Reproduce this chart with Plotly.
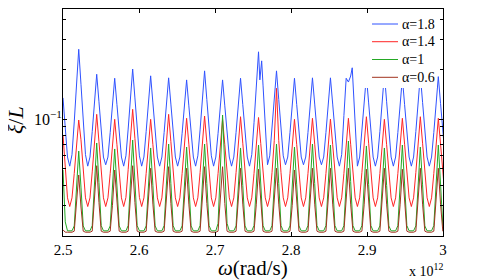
import numpy as np
import plotly.graph_objects as go

# frequency sweep grid, in units of 10^12 rad/s
OMEGA_START = 2.5
OMEGA_STEP = 0.0029571
N_POINTS = 171

LABELS = ["α=1.8", "α=1.4", "α=1", "α=0.6"]
COLORS = ["#2f52ff", "#ff2424", "#24a824", "#a2331f"]

# each row: one resonance period [trough, rise3, rise2, rise1, peak, fall1, fall2, fall3]
BLUE_START = [0.134, 0.085, 0.059]
BLUE_ROWS = [
    [0.052, 0.061, 0.096, 0.162, 0.263, 0.162, 0.096, 0.061],
    [0.052, 0.059, 0.084, 0.127, 0.186, 0.127, 0.084, 0.059],
    [0.053, 0.059, 0.083, 0.122, 0.176, 0.122, 0.083, 0.059],
    [0.052, 0.060, 0.087, 0.134, 0.200, 0.134, 0.087, 0.060],
    [0.052, 0.059, 0.084, 0.125, 0.182, 0.125, 0.084, 0.059],
    [0.052, 0.059, 0.083, 0.123, 0.177, 0.123, 0.083, 0.059],
    [0.052, 0.059, 0.082, 0.120, 0.172, 0.120, 0.082, 0.059],
    [0.052, 0.060, 0.086, 0.131, 0.195, 0.131, 0.086, 0.060],
    [0.052, 0.059, 0.082, 0.120, 0.172, 0.120, 0.082, 0.059],
    [0.052, 0.059, 0.083, 0.122, 0.176, 0.122, 0.083, 0.059],
    [0.052, 0.061, 0.095, 0.158, 0.254, 0.198, 0.160, 0.092],
    [0.053, 0.060, 0.086, 0.131, 0.195, 0.131, 0.086, 0.060],
    [0.053, 0.059, 0.083, 0.122, 0.176, 0.122, 0.083, 0.059],
    [0.053, 0.059, 0.083, 0.123, 0.177, 0.123, 0.083, 0.059],
    [0.053, 0.059, 0.083, 0.123, 0.177, 0.123, 0.083, 0.059],
    [0.052, 0.061, 0.105, 0.176, 0.167, 0.1815, 0.172, 0.092],
    [0.052, 0.059, 0.084, 0.125, 0.182, 0.125, 0.084, 0.059],
    [0.052, 0.059, 0.084, 0.127, 0.187, 0.127, 0.084, 0.059],
    [0.052, 0.059, 0.083, 0.122, 0.177, 0.122, 0.083, 0.059],
    [0.052, 0.059, 0.084, 0.126, 0.184, 0.126, 0.084, 0.059],
    [0.052, 0.059, 0.083, 0.124, 0.180, 0.124, 0.083, 0.059],
]
# split peaks of the α=1.8 curve
BLUE_EXTRA_X = [2.75903, 2.76139, 2.88056]
BLUE_EXTRA_Y = [0.172, 0.224, 0.2035]

RED_START = [0.080, 0.049, 0.0335]
RED_ROWS = [
    [0.0297, 0.0335, 0.047, 0.0695, 0.0986, 0.075, 0.047, 0.0335],
    [0.0297, 0.0335, 0.048, 0.073, 0.1067, 0.073, 0.048, 0.0335],
    [0.0297, 0.0335, 0.047, 0.070, 0.0996, 0.070, 0.047, 0.0335],
    [0.0297, 0.0337, 0.0495, 0.0764, 0.1144, 0.0764, 0.0495, 0.0337],
    [0.0297, 0.0335, 0.047, 0.070, 0.0996, 0.070, 0.047, 0.0335],
    [0.0297, 0.0335, 0.048, 0.073, 0.1067, 0.073, 0.048, 0.0335],
    [0.0297, 0.0335, 0.047, 0.0705, 0.101, 0.0705, 0.047, 0.0335],
    [0.0297, 0.0335, 0.0475, 0.072, 0.1042, 0.072, 0.0475, 0.0335],
    [0.0297, 0.0335, 0.047, 0.070, 0.0996, 0.070, 0.047, 0.0335],
    [0.0297, 0.0335, 0.0475, 0.0715, 0.1032, 0.0715, 0.0475, 0.0335],
    [0.0297, 0.0335, 0.047, 0.071, 0.1021, 0.071, 0.047, 0.0335],
    [0.0297, 0.0335, 0.0475, 0.074, 0.1531, 0.074, 0.0475, 0.0335],
    [0.0297, 0.0335, 0.047, 0.070, 0.0996, 0.070, 0.047, 0.0335],
    [0.0297, 0.0335, 0.047, 0.0705, 0.101, 0.0705, 0.047, 0.0335],
    [0.0297, 0.0335, 0.047, 0.070, 0.100, 0.070, 0.047, 0.0335],
    [0.0297, 0.0335, 0.047, 0.0705, 0.101, 0.0705, 0.047, 0.0335],
    [0.0297, 0.0335, 0.0475, 0.0715, 0.1032, 0.0715, 0.0475, 0.0335],
    [0.0297, 0.0335, 0.047, 0.070, 0.0996, 0.070, 0.047, 0.0335],
    [0.0297, 0.0335, 0.047, 0.0705, 0.101, 0.0705, 0.047, 0.0335],
    [0.0297, 0.0335, 0.0475, 0.0715, 0.1032, 0.0715, 0.0475, 0.0335],
    [0.0297, 0.0335, 0.047, 0.0705, 0.101, 0.0705, 0.047, 0.0335],
]

GREEN_START = [0.0493, 0.024, 0.0212]
GREEN_ROWS = [
    [0.0212, 0.0212, 0.0227, 0.0389, 0.0641, 0.0389, 0.0227, 0.0212],
    [0.0212, 0.0212, 0.0228, 0.0414, 0.0717, 0.0414, 0.0228, 0.0212],
    [0.0212, 0.0212, 0.0227, 0.0395, 0.0660, 0.0395, 0.0227, 0.0212],
    [0.0212, 0.0212, 0.0228, 0.0423, 0.0747, 0.0423, 0.0228, 0.0212],
    [0.0212, 0.0212, 0.0227, 0.0398, 0.0669, 0.0398, 0.0227, 0.0212],
    [0.0212, 0.0212, 0.0228, 0.0409, 0.0707, 0.0409, 0.0228, 0.0212],
    [0.0212, 0.0212, 0.0227, 0.0401, 0.0678, 0.0401, 0.0227, 0.0212],
    [0.0212, 0.0212, 0.0228, 0.0409, 0.0707, 0.0409, 0.0228, 0.0212],
    [0.0212, 0.0212, 0.0235, 0.0521, 0.1057, 0.0521, 0.0235, 0.0212],
    [0.0212, 0.0212, 0.0227, 0.0398, 0.0669, 0.0398, 0.0227, 0.0212],
    [0.0212, 0.0212, 0.0228, 0.0406, 0.0697, 0.0406, 0.0228, 0.0212],
    [0.0212, 0.0212, 0.0228, 0.0409, 0.0707, 0.0409, 0.0228, 0.0212],
    [0.0212, 0.0212, 0.0227, 0.0401, 0.0678, 0.0401, 0.0227, 0.0212],
    [0.0212, 0.0212, 0.0228, 0.0409, 0.0707, 0.0409, 0.0228, 0.0212],
    [0.0212, 0.0212, 0.0228, 0.0406, 0.0697, 0.0406, 0.0228, 0.0212],
    [0.0212, 0.0212, 0.0228, 0.0420, 0.0737, 0.0420, 0.0228, 0.0212],
    [0.0212, 0.0212, 0.0228, 0.0403, 0.0688, 0.0403, 0.0228, 0.0212],
    [0.0212, 0.0212, 0.0227, 0.0398, 0.0669, 0.0398, 0.0227, 0.0212],
    [0.0212, 0.0212, 0.0228, 0.0406, 0.0697, 0.0406, 0.0228, 0.0212],
    [0.0212, 0.0212, 0.0227, 0.0401, 0.0678, 0.0401, 0.0227, 0.0212],
    [0.0212, 0.0212, 0.0228, 0.0406, 0.0697, 0.0406, 0.0228, 0.0212],
]

BROWN_START = [0.0215, 0.0208, 0.0208]
BROWN_ROWS = [
    [0.0208, 0.0208, 0.0211, 0.0295, 0.0460, 0.0295, 0.0211, 0.0208],
    [0.0208, 0.0208, 0.0211, 0.0314, 0.0523, 0.0314, 0.0211, 0.0208],
    [0.0208, 0.0208, 0.0211, 0.0302, 0.0493, 0.0302, 0.0211, 0.0208],
    [0.0208, 0.0208, 0.0211, 0.0314, 0.0523, 0.0314, 0.0211, 0.0208],
    [0.0208, 0.0208, 0.0211, 0.0307, 0.0505, 0.0307, 0.0211, 0.0208],
    [0.0208, 0.0208, 0.0211, 0.0310, 0.0516, 0.0310, 0.0211, 0.0208],
    [0.0208, 0.0208, 0.0211, 0.0307, 0.0505, 0.0307, 0.0211, 0.0208],
    [0.0208, 0.0208, 0.0211, 0.0310, 0.0516, 0.0310, 0.0211, 0.0208],
    [0.0208, 0.0208, 0.0211, 0.0310, 0.0516, 0.0310, 0.0211, 0.0208],
    [0.0208, 0.0208, 0.0211, 0.0307, 0.0505, 0.0307, 0.0211, 0.0208],
    [0.0208, 0.0208, 0.0211, 0.0304, 0.0498, 0.0304, 0.0211, 0.0208],
    [0.0208, 0.0208, 0.0211, 0.0307, 0.0505, 0.0307, 0.0211, 0.0208],
    [0.0208, 0.0208, 0.0211, 0.0302, 0.0493, 0.0302, 0.0211, 0.0208],
    [0.0208, 0.0208, 0.0211, 0.0307, 0.0505, 0.0307, 0.0211, 0.0208],
    [0.0208, 0.0208, 0.0211, 0.0307, 0.0505, 0.0307, 0.0211, 0.0208],
    [0.0208, 0.0208, 0.0211, 0.0307, 0.0505, 0.0307, 0.0211, 0.0208],
    [0.0208, 0.0208, 0.0211, 0.0304, 0.0498, 0.0304, 0.0211, 0.0208],
    [0.0208, 0.0208, 0.0211, 0.0307, 0.0505, 0.0307, 0.0211, 0.0208],
    [0.0208, 0.0208, 0.0211, 0.0304, 0.0498, 0.0304, 0.0211, 0.0208],
    [0.0208, 0.0208, 0.0211, 0.0307, 0.0505, 0.0307, 0.0211, 0.0208],
    [0.0208, 0.0208, 0.0211, 0.0307, 0.0505, 0.0307, 0.0211, 0.0208],
]

X_TICKS = [2.5, 2.6, 2.7, 2.8, 2.9, 3.0]
X_TICK_TEXT = ["2.5", "2.6", "2.7", "2.8", "2.9", "3"]
Y_TICKS = [0.1]
Y_TICK_TEXT = ["10<sup>\u22121</sup>"]
Y_MINOR = [0.02, 0.03, 0.04, 0.05, 0.06, 0.07, 0.08, 0.09, 0.2, 0.3, 0.4]

omega = OMEGA_START + OMEGA_STEP * np.arange(N_POINTS)


def flatten(start, rows):
    out = list(start)
    for r in rows:
        out.extend(r)
    return np.array(out)


blue_y = flatten(BLUE_START, BLUE_ROWS)
bx = np.concatenate([omega, BLUE_EXTRA_X])
by = np.concatenate([blue_y, BLUE_EXTRA_Y])
order = np.argsort(bx)
bx, by = bx[order], by[order]

series = [
    (bx, by),
    (omega, flatten(RED_START, RED_ROWS)),
    (omega, flatten(GREEN_START, GREEN_ROWS)),
    (omega, flatten(BROWN_START, BROWN_ROWS)),
]

SERIF = "Liberation Serif, Times New Roman, serif"

fig = go.Figure()
for (x, y), name, col in zip(series, LABELS, COLORS):
    fig.add_trace(go.Scatter(x=x, y=y, mode="lines", name=name,
                             line=dict(color=col, width=1), showlegend=False))

# page body has an 8px margin: figure is sized so the plot area lands at 63..443 x 9..236
fig.update_layout(
    width=483, height=272,
    margin=dict(l=55, r=48, t=1, b=44),
    paper_bgcolor="white", plot_bgcolor="white",
    font=dict(family=SERIF, size=15, color="black"),
    showlegend=False,
)
fig.update_xaxes(
    range=[2.5, 3.0], tickvals=X_TICKS, ticktext=X_TICK_TEXT,
    ticks="inside", ticklen=4, tickcolor="black", tickwidth=1,
    showline=True, linecolor="black", linewidth=1, mirror="ticks",
    showgrid=False, zeroline=False,
    tickfont=dict(family=SERIF, size=15, color="black"),
)
fig.update_yaxes(
    type="log", range=[-1.7048, -0.3373],
    tickvals=Y_TICKS, ticktext=Y_TICK_TEXT,
    ticks="inside", ticklen=4, tickcolor="black", tickwidth=1,
    ticklabelstandoff=-3,
    minor=dict(tickvals=Y_MINOR, ticks="inside", ticklen=3,
               tickcolor="black", showgrid=False),
    showline=True, linecolor="black", linewidth=1, mirror="ticks",
    showgrid=False, zeroline=False,
    tickfont=dict(family=SERIF, size=16, color="black"),
)

# legend (MATLAB style: opaque white box without border, over the curves)
LEG_X0, LEG_X1, LEG_Y0, LEG_Y1 = 0.7684, 0.9842, 0.652, 0.978
LEG_LINE_X0, LEG_LINE_X1, LEG_TEXT_X = 0.8132, 0.8816, 0.8895
LEG_ROWS_Y = [0.9339, 0.8559, 0.7775, 0.6991]
fig.add_shape(type="rect", xref="paper", yref="paper",
              x0=LEG_X0, x1=LEG_X1, y0=LEG_Y0, y1=LEG_Y1,
              fillcolor="white", line=dict(width=0), layer="above")
for name, col, yy in zip(LABELS, COLORS, LEG_ROWS_Y):
    fig.add_shape(type="line", xref="paper", yref="paper",
                  x0=LEG_LINE_X0, x1=LEG_LINE_X1, y0=yy, y1=yy,
                  line=dict(color=col, width=1), layer="above")
    fig.add_annotation(text=name, xref="paper", yref="paper",
                       x=LEG_TEXT_X, y=yy, showarrow=False,
                       xanchor="left", yanchor="middle", borderpad=0,
                       font=dict(family=SERIF, size=14, color="black"))

fig.add_annotation(text="<i>ξ</i>/<i>L</i>", xref="paper", yref="paper",
                   x=-0.126, y=0.511, showarrow=False, textangle=-90,
                   font=dict(family=SERIF, size=22, color="black"),
                   xanchor="center", yanchor="middle")
fig.add_annotation(text="<i>ω</i>(rad/s)", xref="paper", yref="paper",
                   x=0.5, y=-0.141, showarrow=False,
                   font=dict(family=SERIF, size=21, color="black"),
                   xanchor="center", yanchor="middle")
fig.add_annotation(text="x 10<sup>12</sup>", xref="paper", yref="paper",
                   x=1.005, y=-0.15, showarrow=False,
                   font=dict(family=SERIF, size=14, color="black"),
                   xanchor="right", yanchor="middle")

fig.write_html("out.html")
